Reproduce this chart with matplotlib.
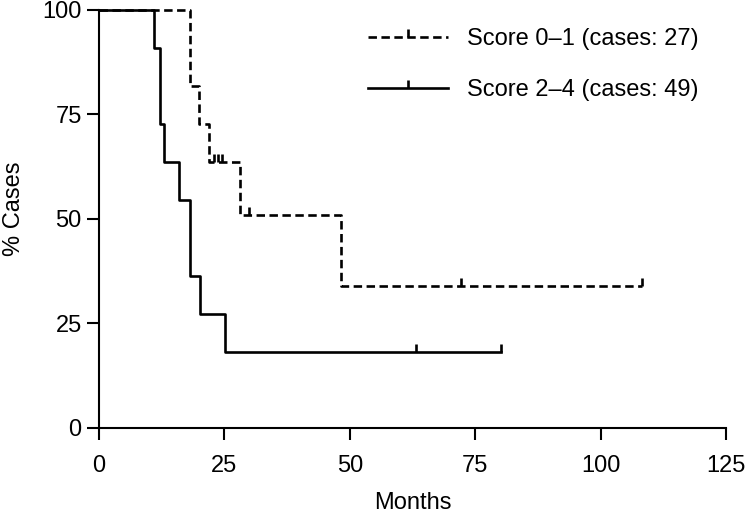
import numpy as np
import matplotlib
matplotlib.use("Agg")
import matplotlib.pyplot as plt
from matplotlib.lines import Line2D

# --- DATA ---
# Score 0-1, dashed
low_t = [0, 18.1, 20.0, 22.0, 28.1, 48.3, 108.2]
low_s = [100, 81.8, 72.7, 63.6, 50.9, 34.0, 34.0]
low_cens_t = [23.0, 23.8, 24.6, 30.0, 72.1, 108.2]
low_cens_s = [63.6, 63.6, 63.6, 50.9, 34.0, 34.0]

# Score 2-4, solid
high_t = [0, 11.0, 12.2, 13.0, 16.0, 18.1, 20.1, 25.2, 80.2]
high_s = [100, 90.9, 72.7, 63.6, 54.5, 36.4, 27.3, 18.2, 18.2]
high_cens_t = [63.2, 80.2]
high_cens_s = [18.2, 18.2]

labels = ["Score 0\u20131 (cases: 27)", "Score 2\u20134 (cases: 49)"]
x_ticks = [0, 25, 50, 75, 100, 125]
y_ticks = [0, 25, 50, 75, 100]

# --- STYLE ---
plt.rcParams["font.family"] = ["Liberation Sans", "DejaVu Sans"]
FS = 17
LW = 1.9
DASH = (3.2, 1.7)

fig = plt.figure(figsize=(7.46, 5.13), dpi=100)
ax = fig.add_axes([99 / 746, 1 - 427.7 / 513, 627 / 746, 417.7 / 513])

# --- PLOT ---
ax.step(low_t, low_s, where="post", color="black", lw=LW,
        linestyle=(0, DASH), clip_on=False)
ax.plot(low_cens_t, low_cens_s, linestyle="none", marker=2, ms=6,
        mew=LW, color="black", clip_on=False)

ax.step(high_t, high_s, where="post", color="black", lw=LW, clip_on=False)
ax.plot(high_cens_t, high_cens_s, linestyle="none", marker=2, ms=6,
        mew=LW, color="black", clip_on=False)

ax.set_xlim(0, 125)
ax.set_ylim(0, 100)
ax.set_xticks(x_ticks)
ax.set_yticks(y_ticks)

for side in ["top", "right"]:
    ax.spines[side].set_visible(False)
for side in ["left", "bottom"]:
    ax.spines[side].set_linewidth(1.5)

ax.tick_params(direction="out", length=8.5, width=1.5, labelsize=FS)
ax.tick_params(axis="x", pad=11)
ax.tick_params(axis="y", pad=4)

ax.set_xlabel("Months", fontsize=FS, labelpad=11)
ax.set_ylabel("% Cases", fontsize=FS)
ax.yaxis.set_label_coords(-0.118, 0.524)

# --- LEGEND ---
handles = [
    Line2D([], [], color="black", lw=LW, linestyle=(0, DASH),
           marker=2, ms=6, mew=LW),
    Line2D([], [], color="black", lw=LW, marker=2, ms=6, mew=LW),
]
ax.legend(handles, labels, loc="upper left", frameon=False, fontsize=FS,
          numpoints=1, handlelength=3.4, handletextpad=0.8,
          labelspacing=1.2, borderpad=0, borderaxespad=0,
          bbox_to_anchor=(368 / 746, 1 - 28.5 / 513),
          bbox_transform=fig.transFigure)

plt.savefig("out.png", dpi=100)
